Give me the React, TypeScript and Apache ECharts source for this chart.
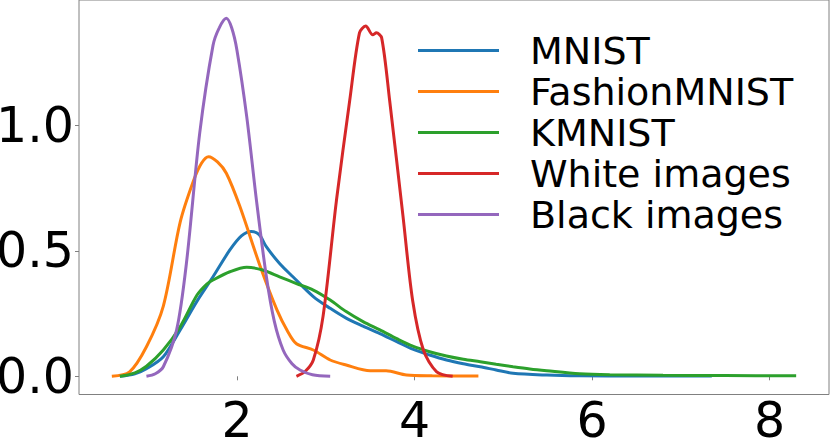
import React, { useEffect, useRef } from "react";
import * as echarts from "echarts";

const seriesNames = ["MNIST", "FashionMNIST", "KMNIST", "White images", "Black images"];
const colors = ["#1f77b4", "#ff7f0e", "#2ca02c", "#d62728", "#9467bd"];
const xTicks = [2, 4, 6, 8];
const yTicks = [0, 0.5, 1.0];

const mnist: [number, number][] = [
  [0.68, 0], [0.85, 0.01], [0.98, 0.03], [1.17, 0.078], [1.36, 0.185], [1.55, 0.3],
  [1.73, 0.397], [1.92, 0.504], [2.05, 0.56], [2.16, 0.578], [2.25, 0.565], [2.33, 0.517],
  [2.48, 0.45], [2.63, 0.397], [2.86, 0.318], [3.05, 0.271], [3.23, 0.232], [3.42, 0.2],
  [3.61, 0.17], [3.8, 0.138], [3.98, 0.108], [4.17, 0.085], [4.36, 0.065], [4.55, 0.05],
  [4.74, 0.038], [4.92, 0.025], [5.11, 0.012], [5.49, 0.005], [5.86, 0.002], [6.5, 0.001],
  [7.35, 0.001],
];

const fashion: [number, number][] = [
  [0.59, 0], [0.79, 0.018], [0.98, 0.118], [1.17, 0.28], [1.36, 0.615], [1.51, 0.78],
  [1.6, 0.85], [1.68, 0.876], [1.78, 0.855], [1.88, 0.81], [2.03, 0.68], [2.26, 0.44],
  [2.45, 0.265], [2.57, 0.18], [2.67, 0.13], [2.86, 0.105], [3.05, 0.065], [3.23, 0.045],
  [3.5, 0.022], [3.68, 0.022], [3.91, 0.005], [4.2, 0.002], [4.72, 0.001],
];

const kmnist: [number, number][] = [
  [0.68, 0], [0.85, 0.014], [0.98, 0.04], [1.17, 0.105], [1.36, 0.198], [1.55, 0.324],
  [1.66, 0.368], [1.73, 0.384], [1.92, 0.417], [2.11, 0.435], [2.29, 0.424], [2.48, 0.397],
  [2.67, 0.37], [2.86, 0.344], [3.05, 0.304], [3.23, 0.258], [3.42, 0.218], [3.61, 0.185],
  [3.8, 0.15], [3.98, 0.12], [4.17, 0.098], [4.36, 0.081], [4.55, 0.068], [4.74, 0.058],
  [4.92, 0.048], [5.11, 0.038], [5.3, 0.029], [5.49, 0.022], [5.86, 0.01], [6.2, 0.006],
  [6.8, 0.004], [7.5, 0.003], [8.3, 0.002],
];

const white: [number, number][] = [
  [2.67, 0], [2.77, 0.02], [2.86, 0.065], [2.97, 0.24], [3.12, 0.7], [3.27, 1.1],
  [3.38, 1.37], [3.45, 1.397], [3.53, 1.362], [3.57, 1.37], [3.63, 1.35], [3.72, 1.1],
  [3.87, 0.64], [3.98, 0.3], [4.1, 0.105], [4.25, 0.018], [4.43, 0],
];

const black: [number, number][] = [
  [0.98, 0], [1.08, 0.01], [1.17, 0.038], [1.32, 0.185], [1.43, 0.45], [1.58, 0.97],
  [1.73, 1.32], [1.8, 1.39], [1.88, 1.428], [1.94, 1.39], [2.0, 1.3], [2.11, 1.035],
  [2.22, 0.7], [2.33, 0.4], [2.42, 0.22], [2.52, 0.105], [2.62, 0.05], [2.71, 0.025],
  [2.85, 0.006], [3.05, 0],
];

const allData = [mnist, fashion, kmnist, white, black];

export default function App() {
  const ref = useRef<HTMLDivElement>(null);
  useEffect(() => {
    if (!ref.current) return;
    const chart = echarts.init(ref.current, undefined, { renderer: "svg" });
    const font = "DejaVu Sans";
    chart.setOption({
      animation: false,
      textStyle: { fontFamily: font },
      grid: {
        left: 79,
        right: 1,
        top: 0,
        bottom: 43.5,
        show: true,
        borderColor: "#808080",
        borderWidth: 1,
        containLabel: false,
        outerBoundsMode: "none",
      },
      xAxis: {
        type: "value",
        min: 0.22,
        max: 8.67,
        axisLine: { show: false },
        splitLine: { show: false },
        axisTick: { show: true, length: 4, lineStyle: { color: "#808080" }, customValues: xTicks },
        axisLabel: {
          customValues: xTicks,
          fontSize: 49,
          color: "#000",
          fontFamily: font,
          margin: 1,
          formatter: (v: number) => String(v),
        },
      },
      yAxis: {
        type: "value",
        min: -0.0726,
        max: 1.501,
        axisLine: { show: false },
        splitLine: { show: false },
        axisTick: { show: true, length: 4, lineStyle: { color: "#808080" }, customValues: yTicks },
        axisLabel: {
          customValues: yTicks,
          fontSize: 49,
          color: "#000",
          fontFamily: font,
          margin: 5,
          formatter: (v: number) => v.toFixed(1),
        },
      },
      legend: {
        orient: "vertical",
        left: 418,
        top: 30,
        padding: 0,
        itemGap: 0,
        itemWidth: 81,
        itemHeight: 3,
        icon: "rect",
        data: seriesNames,
        textStyle: {
          fontSize: 38,
          fontFamily: font,
          color: "#000",
          lineHeight: 41,
          padding: [0, 0, 0, 26],
        },
      },
      series: seriesNames.map((name, i) => ({
        name,
        type: "line",
        data: allData[i],
        smooth: 0.3,
        showSymbol: false,
        symbol: "none",
        lineStyle: { width: 3, color: colors[i] },
        itemStyle: { color: colors[i] },
      })),
    });
    return () => chart.dispose();
  }, []);
  return <div ref={ref} style={{ width: 830, height: 438, position: "absolute", left: 0, top: 0 }} />;
}
